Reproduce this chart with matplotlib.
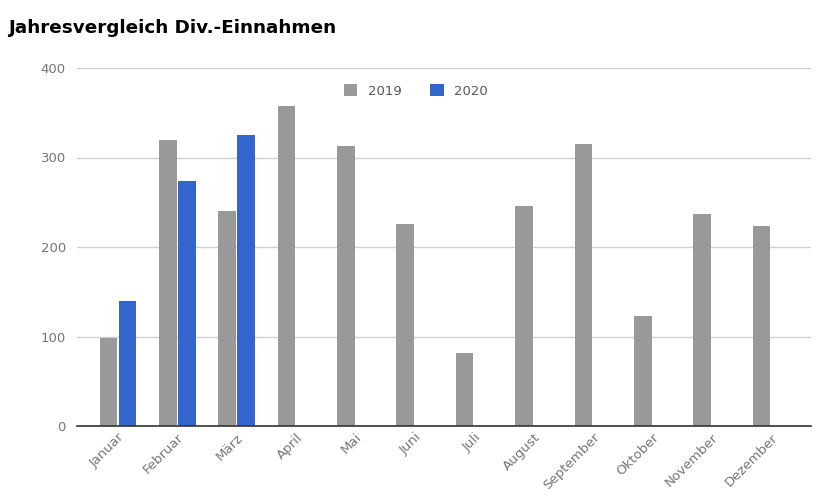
import matplotlib.pyplot as plt
import numpy as np

months = ['Januar', 'Februar', 'März', 'April', 'Mai', 'Juni', 'Juli',
          'August', 'September', 'Oktober', 'November', 'Dezember']
div_2019 = [98, 320, 240, 358, 313, 226, 82, 246, 315, 123, 237, 223]
div_2020 = [140, 274, 325, np.nan, np.nan, np.nan, np.nan, np.nan, np.nan, np.nan, np.nan, np.nan]

plt.rcParams['font.family'] = ['DejaVu Sans']

fig = plt.figure(figsize=(8.25, 5), dpi=100)
ax = fig.add_axes([0.0933, 0.148, 0.8894, 0.716])

x = np.arange(len(months))
w = 0.296
ax.bar(x - 0.16, div_2019, width=w, color='#999999', label='2019', zorder=3)
ax.bar(x + 0.16, div_2020, width=w, color='#3366cc', label='2020', zorder=3)

ax.set_xlim(-0.69, 11.67)
ax.set_ylim(0, 400)
ax.set_yticks([0, 100, 200, 300, 400])
ax.grid(axis='y', color='#d0d0d0', linewidth=1, zorder=0)

for s in ['top', 'right', 'left']:
    ax.spines[s].set_visible(False)
ax.spines['bottom'].set_color('#333333')
ax.spines['bottom'].set_linewidth(1.2)
ax.spines['bottom'].set_zorder(4)

ax.tick_params(axis='both', length=0, colors='#757575', labelsize=9.5)
ax.tick_params(axis='y', pad=8)
ax.set_xticks(x)
ax.set_xticklabels(months, rotation=45, ha='right', rotation_mode='anchor')

fig.text(0.01, 0.944, 'Jahresvergleich Div.-Einnahmen', fontsize=13.2,
         fontweight='bold', color='#000000', va='center')

ax.legend(loc='center', bbox_to_anchor=(0.462, 0.936), ncol=2, frameon=False,
          fontsize=9.5, labelcolor='#555555', handlelength=1, handleheight=1,
          columnspacing=2.2, handletextpad=0.8)

plt.savefig('out.png', dpi=100)
